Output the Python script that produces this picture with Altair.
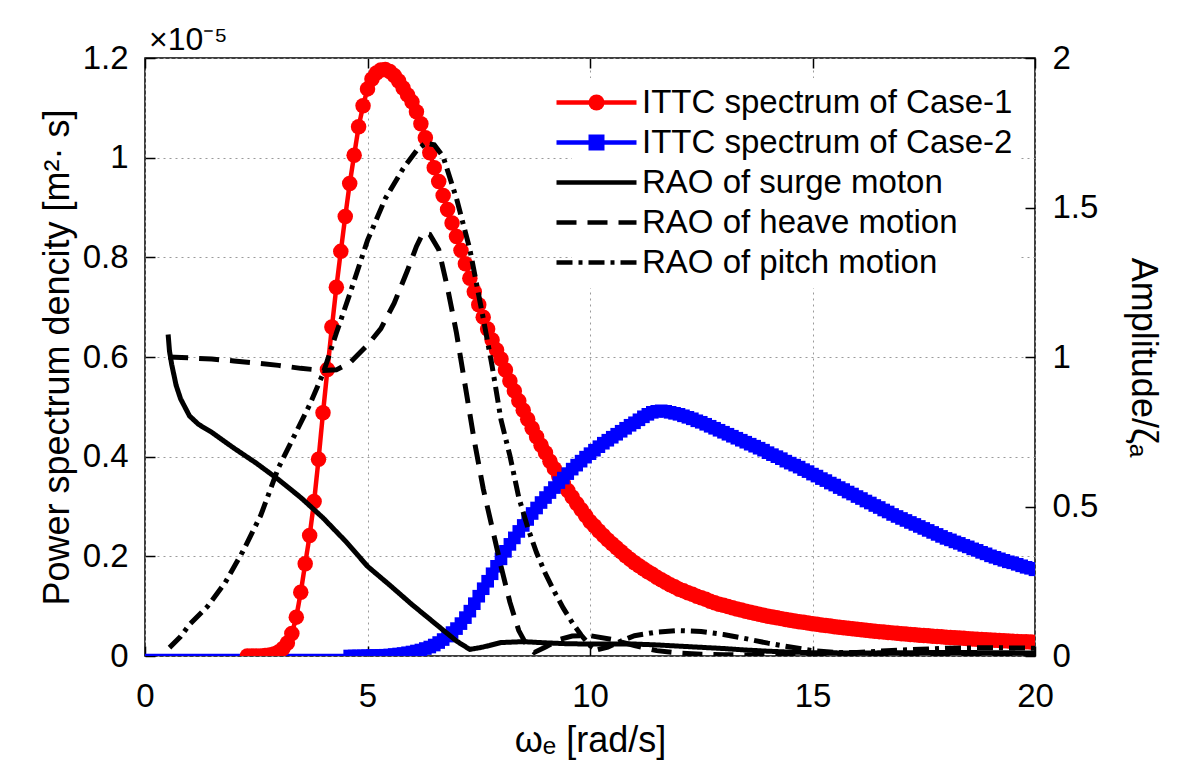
import altair as alt
import pandas as pd

FONT = "Liberation Sans"

series_names = ["ITTC spectrum of Case-1", "ITTC spectrum of Case-2",
                "RAO of surge moton", "RAO of heave motion", "RAO of pitch motion"]
series_colors = ["#ff0000", "#0000ff", "#000000", "#000000", "#000000"]
series_dashes = [[1, 0], [1, 0], [1, 0], [20, 11], [16, 6, 4, 6]]
marker_shapes = ["circle", "square"]

x_ticks = [0, 5, 10, 15, 20]
psd_ticks = [0, 0.2, 0.4, 0.6, 0.8, 1.0, 1.2]
amp_ticks = [0, 0.5, 1, 1.5, 2]

# ITTC spectrum of Case-1 (units of 1e-5 m^2 s)
case1_omega = [2.3, 2.4, 2.5, 2.6, 2.7, 2.8, 2.9, 3.0, 3.1, 3.2, 3.3, 3.4, 3.5, 3.6, 3.7, 3.8, 3.9,
               4.0, 4.1, 4.2, 4.3, 4.4, 4.5, 4.6, 4.7, 4.8, 4.9, 5.0, 5.1, 5.2, 5.3, 5.4, 5.5, 5.6,
               5.7, 5.8, 5.9, 6.0, 6.1, 6.2, 6.3, 6.4, 6.5, 6.6, 6.7, 6.8, 6.9, 7.0, 7.1, 7.2, 7.3,
               7.4, 7.5, 7.6, 7.7, 7.8, 7.9, 8.0, 8.1, 8.2, 8.3, 8.4, 8.5, 8.6, 8.7, 8.8, 8.9, 9.0,
               9.1, 9.2, 9.3, 9.4, 9.5, 9.6, 9.7, 9.8, 9.9, 10.0, 10.1, 10.2, 10.3, 10.4, 10.5,
               10.6, 10.7, 10.8, 10.9, 11.0, 11.1, 11.2, 11.3, 11.4, 11.5, 11.6, 11.7, 11.8, 11.9,
               12.0, 12.1, 12.2, 12.3, 12.4, 12.5, 12.6, 12.7, 12.8, 12.9, 13.0, 13.1, 13.2, 13.3,
               13.4, 13.5, 13.6, 13.7, 13.8, 13.9, 14.0, 14.1, 14.2, 14.3, 14.4, 14.5, 14.6, 14.7,
               14.8, 14.9, 15.0, 15.1, 15.2, 15.3, 15.4, 15.5, 15.6, 15.7, 15.8, 15.9, 16.0, 16.1,
               16.2, 16.3, 16.4, 16.5, 16.6, 16.7, 16.8, 16.9, 17.0, 17.1, 17.2, 17.3, 17.4, 17.5,
               17.6, 17.7, 17.8, 17.9, 18.0, 18.1, 18.2, 18.3, 18.4, 18.5, 18.6, 18.7, 18.8, 18.9,
               19.0, 19.1, 19.2, 19.3, 19.4, 19.5, 19.6, 19.7, 19.8, 19.9, 20.0]
case1_psd = [0.000, 0.000, 0.000, 0.000, 0.001, 0.002, 0.004, 0.008, 0.015, 0.026, 0.045, 0.078,
             0.128, 0.185, 0.242, 0.310, 0.395, 0.488, 0.575, 0.660, 0.740, 0.812, 0.882, 0.948,
             1.005, 1.062, 1.104, 1.138, 1.158, 1.170, 1.176, 1.177, 1.173, 1.165, 1.154, 1.140,
             1.126, 1.112, 1.092, 1.068, 1.040, 1.010, 0.980, 0.952, 0.924, 0.896, 0.869, 0.842,
             0.814, 0.787, 0.758, 0.731, 0.705, 0.680, 0.656, 0.634, 0.614, 0.596,
             0.574, 0.552, 0.532, 0.512, 0.493, 0.475, 0.457, 0.440, 0.423, 0.408,
             0.391, 0.376, 0.360, 0.346, 0.332, 0.319, 0.306, 0.294, 0.282, 0.270,
             0.261, 0.251, 0.242, 0.233, 0.225, 0.217, 0.209, 0.201, 0.194, 0.187,
             0.181, 0.175, 0.169, 0.164, 0.158, 0.153, 0.148, 0.143, 0.139, 0.134,
             0.131, 0.127, 0.124, 0.120, 0.117, 0.114, 0.110, 0.107, 0.104, 0.102,
             0.0991, 0.0968, 0.0945, 0.0922, 0.0900, 0.0879, 0.0858, 0.0838, 0.0818, 0.0799,
             0.0782, 0.0766, 0.0750, 0.0734, 0.0719, 0.0704, 0.0689, 0.0675, 0.0661, 0.0647,
             0.0635, 0.0623, 0.0611, 0.0600, 0.0588, 0.0577, 0.0567, 0.0556, 0.0546, 0.0535,
             0.0526, 0.0516, 0.0507, 0.0498, 0.0489, 0.0481, 0.0472, 0.0464, 0.0455, 0.0447,
             0.0440, 0.0432, 0.0425, 0.0418, 0.0411, 0.0404, 0.0397, 0.0390, 0.0384, 0.0377,
             0.0371, 0.0365, 0.0359, 0.0354, 0.0348, 0.0342, 0.0337, 0.0332, 0.0326, 0.0321,
             0.0316, 0.0311, 0.0307, 0.0302, 0.0297, 0.0293, 0.0288, 0.0284, 0.0279, 0.0275]

# ITTC spectrum of Case-2 (units of 1e-5 m^2 s)
case2_omega = [0.0, 4.6, 4.7, 4.8, 4.9, 5.0, 5.1, 5.2, 5.3, 5.4, 5.5, 5.6, 5.7, 5.8, 5.9, 6.0,
               6.1, 6.2, 6.3, 6.4, 6.5, 6.6, 6.7, 6.8, 6.9, 7.0, 7.1, 7.2, 7.3, 7.4, 7.5, 7.6,
               7.7, 7.8, 7.9, 8.0, 8.1, 8.2, 8.3, 8.4, 8.5, 8.6, 8.7, 8.8, 8.9, 9.0, 9.1, 9.2,
               9.3, 9.4, 9.5, 9.6, 9.7, 9.8, 9.9, 10.0, 10.1, 10.2, 10.3, 10.4, 10.5, 10.6, 10.7,
               10.8, 10.9, 11.0, 11.1, 11.2, 11.3, 11.4, 11.5, 11.6, 11.7, 11.8, 11.9, 12.0,
               12.1, 12.2, 12.3, 12.4, 12.5, 12.6, 12.7, 12.8, 12.9, 13.0, 13.1, 13.2, 13.3,
               13.4, 13.5, 13.6, 13.7, 13.8, 13.9, 14.0, 14.1, 14.2, 14.3, 14.4, 14.5, 14.6,
               14.7, 14.8, 14.9, 15.0, 15.1, 15.2, 15.3, 15.4, 15.5, 15.6, 15.7, 15.8, 15.9,
               16.0, 16.1, 16.2, 16.3, 16.4, 16.5, 16.6, 16.7, 16.8, 16.9, 17.0, 17.1, 17.2,
               17.3, 17.4, 17.5, 17.6, 17.7, 17.8, 17.9, 18.0, 18.1, 18.2, 18.3, 18.4, 18.5,
               18.6, 18.7, 18.8, 18.9, 19.0, 19.1, 19.2, 19.3, 19.4, 19.5, 19.6, 19.7, 19.8,
               19.9, 20.0]
case2_psd = [0.0, 0.000, 0.000, 0.000, 0.0003, 0.0005, 0.0008, 0.001, 0.0012, 0.0015, 0.002,
             0.003, 0.004, 0.005, 0.0065, 0.008, 0.010, 0.012, 0.015, 0.018, 0.022, 0.027,
             0.033, 0.040, 0.047, 0.055, 0.065, 0.077, 0.090, 0.105, 0.120, 0.135, 0.150,
             0.165, 0.180, 0.195, 0.210, 0.224, 0.237, 0.250, 0.262, 0.274, 0.286, 0.297,
             0.308, 0.318, 0.328, 0.338, 0.348, 0.357, 0.366, 0.375, 0.383, 0.391, 0.399,
             0.406, 0.413, 0.420, 0.427, 0.433, 0.439, 0.445, 0.451, 0.457, 0.463, 0.468,
             0.474, 0.480, 0.485, 0.489, 0.491, 0.492, 0.491, 0.489, 0.487, 0.485, 0.482,
             0.479, 0.476, 0.472, 0.469, 0.465, 0.461, 0.457, 0.453, 0.449, 0.445, 0.441,
             0.437, 0.433, 0.429, 0.425, 0.421, 0.417, 0.413, 0.408, 0.404, 0.400, 0.396,
             0.391, 0.387, 0.383, 0.379, 0.374, 0.370, 0.365, 0.361, 0.356, 0.352, 0.347,
             0.343, 0.338, 0.334, 0.329, 0.325, 0.320, 0.316, 0.311, 0.307, 0.302, 0.298,
             0.293, 0.289, 0.284, 0.280, 0.276, 0.272, 0.268, 0.264, 0.260, 0.256, 0.252,
             0.248, 0.244, 0.240, 0.236, 0.233, 0.229, 0.226, 0.222, 0.219, 0.215, 0.212,
             0.208, 0.205, 0.201, 0.198, 0.195, 0.192, 0.189, 0.187, 0.184, 0.181, 0.178,
             0.176, 0.173]

# RAO curves (Amplitude / zeta_a)
surge_omega = [0.52, 0.55, 0.6, 0.7, 0.8, 1.0, 1.2, 1.5, 2.0, 2.5, 3.0, 3.5, 4.0, 4.5, 5.0, 5.5,
               6.0, 6.5, 7.0, 7.3, 7.6, 8.0, 8.5, 9.0, 9.5, 10.0, 10.5, 11.0, 11.5, 12.0, 12.5,
               13.0, 13.5, 14.0, 14.5, 15.0, 16.0, 17.0, 18.0, 19.0, 20.0]
surge_amp = [1.075, 1.02, 0.975, 0.905, 0.86, 0.803, 0.775, 0.748, 0.695, 0.645, 0.59, 0.53,
             0.462, 0.385, 0.30, 0.237, 0.172, 0.111, 0.05, 0.022, 0.03, 0.045, 0.048, 0.044,
             0.041, 0.04, 0.04, 0.04, 0.037, 0.033, 0.029, 0.025, 0.02, 0.016, 0.013, 0.011,
             0.01, 0.011, 0.012, 0.011, 0.01]

heave_omega = [0.52, 1.0, 1.5, 2.0, 2.5, 3.0, 3.5, 4.0, 4.3, 4.6, 5.0, 5.3, 5.6, 5.9, 6.1, 6.25,
               6.4, 6.6, 6.8, 7.0, 7.2, 7.4, 7.6, 7.8, 8.0, 8.2, 8.4, 8.6, 8.75, 9.0, 9.3, 9.6,
               10.0, 10.5, 11.0, 11.5, 12.0, 12.5, 13.0, 14.0, 15.0, 16.0, 17.0, 18.0, 19.0, 20.0]
heave_amp = [1.0, 0.997, 0.993, 0.987, 0.98, 0.972, 0.962, 0.955, 0.957, 0.98, 1.04, 1.095,
             1.18, 1.29, 1.37, 1.415, 1.41, 1.36, 1.23, 1.08, 0.9, 0.72, 0.56, 0.43, 0.30, 0.18,
             0.085, 0.03, 0.012, 0.03, 0.055, 0.067, 0.068, 0.055, 0.035, 0.018, 0.01, 0.006,
             0.004, 0.003, 0.002, 0.002, 0.002, 0.002, 0.002, 0.002]

pitch_omega = [0.55, 0.8, 1.0, 1.4, 1.8, 2.2, 2.6, 3.0, 3.3, 3.7, 4.0, 4.3, 4.6, 5.0, 5.4, 5.8,
               6.1, 6.3, 6.5, 6.7, 7.0, 7.3, 7.6, 7.8, 8.0, 8.2, 8.4, 8.6, 8.8, 9.0, 9.2, 9.4,
               9.6, 9.8, 10.0, 10.15, 10.4, 10.7, 11.0, 11.5, 12.0, 12.5, 13.0, 13.5, 14.0, 14.5,
               15.0, 15.5, 16.0, 17.0, 18.0, 19.0, 20.0]
pitch_amp = [0.028, 0.065, 0.105, 0.165, 0.245, 0.35, 0.47, 0.63, 0.72, 0.84, 0.944, 1.08,
             1.21, 1.39, 1.53, 1.63, 1.69, 1.715, 1.71, 1.67, 1.53, 1.36, 1.13, 0.97, 0.79,
             0.67, 0.53, 0.43, 0.345, 0.275, 0.215, 0.16, 0.112, 0.07, 0.035, 0.02, 0.03, 0.05,
             0.068, 0.08, 0.085, 0.082, 0.072, 0.058, 0.043, 0.03, 0.018, 0.012, 0.012, 0.02,
             0.026, 0.028, 0.026]


def frame(omegas, values, name):
    return pd.DataFrame({"omega": omegas, "value": values, "series": name, "marker": name})


red_df = frame(case1_omega, case1_psd, series_names[0])
blue_df = frame(case2_omega, case2_psd, series_names[1])
spec_df = pd.concat([red_df, blue_df], ignore_index=True)
rao_df = pd.concat([frame(surge_omega, surge_amp, series_names[2]),
                    frame(heave_omega, heave_amp, series_names[3]),
                    frame(pitch_omega, pitch_amp, series_names[4])], ignore_index=True)

x_scale = alt.Scale(domain=[0, 20], nice=False, zero=False)
psd_scale = alt.Scale(domain=[0, 1.2], nice=False)
amp_scale = alt.Scale(domain=[0, 2], nice=False)
color_scale = alt.Scale(domain=series_names, range=series_colors)
dash_scale = alt.Scale(domain=series_names, range=series_dashes)
shape_scale = alt.Scale(domain=series_names[:2], range=marker_shapes)
fill_scale = alt.Scale(domain=series_names[:2], range=series_colors[:2])

GRID = dict(gridColor="#9a9a9a", gridDash=[2, 4], gridWidth=1)
common_leg = dict(orient="none", legendX=427, legendY=20, title=None, labelFont=FONT,
                  labelFontSize=33, labelColor="black", labelLimit=0, rowPadding=6,
                  padding=8, symbolSize=256, labelOffset=29)
line_legend = alt.Legend(symbolType="M-5,0L5,0", symbolStrokeWidth=4.5, fillColor="white",
                         **common_leg)
marker_legend = alt.Legend(labelOpacity=0, symbolStrokeWidth=0, **common_leg)

spec_lines = alt.Chart(spec_df).mark_line(strokeWidth=4.5, clip=True).encode(
    x=alt.X("omega:Q", scale=x_scale,
            axis=alt.Axis(orient="bottom", values=x_ticks, format="~g", offset=-10, tickSize=10,
                          domain=False, grid=True, labelFlush=False, labelPadding=24,
                          title="ωₑ [rad/s]", titlePadding=10, **GRID)),
    y=alt.Y("value:Q", scale=psd_scale,
            axis=alt.Axis(orient="left", values=psd_ticks, format="~g", offset=-10, tickSize=10,
                          domain=False, grid=True, labelFlush=False, labelPadding=17,
                          title="Power spectrum dencity [m²· s]", titlePadding=6, **GRID)),
    color=alt.Color("series:N", scale=color_scale, legend=line_legend),
    strokeDash=alt.StrokeDash("series:N", scale=dash_scale, legend=line_legend),
)

top_axis = alt.Axis(orient="top", values=x_ticks, labels=False, offset=-10, tickSize=10,
                    domain=False, grid=False, title=None)

pts_red = alt.Chart(red_df).mark_point(filled=True, size=240, opacity=1, clip=True).encode(
    x=alt.X("omega:Q", scale=x_scale, axis=top_axis),
    y=alt.Y("value:Q", scale=psd_scale, axis=None),
    shape=alt.Shape("marker:N", scale=shape_scale, legend=marker_legend),
    fill=alt.Fill("marker:N", scale=fill_scale, legend=marker_legend),
)

pts_blue = alt.Chart(blue_df).transform_filter("datum.omega >= 4.6").mark_point(
    filled=True, size=160, opacity=1, clip=True).encode(
    x=alt.X("omega:Q", scale=x_scale, axis=None),
    y=alt.Y("value:Q", scale=psd_scale, axis=None),
    shape=alt.Shape("marker:N", scale=shape_scale, legend=marker_legend),
    fill=alt.Fill("marker:N", scale=fill_scale, legend=marker_legend),
)

rao_lines = alt.Chart(rao_df).mark_line(strokeWidth=5, clip=True).encode(
    x=alt.X("omega:Q", scale=x_scale, axis=None),
    y=alt.Y("value:Q", scale=amp_scale,
            axis=alt.Axis(orient="right", values=amp_ticks, format="~g", offset=-10, tickSize=10,
                          domain=False, grid=False, labelFlush=False, labelPadding=17,
                          title="Amplitude/ζₐ", titlePadding=26)),
    color=alt.Color("series:N", scale=color_scale, legend=line_legend),
    strokeDash=alt.StrokeDash("series:N", scale=dash_scale, legend=line_legend),
)

chart = alt.layer(spec_lines, pts_red, pts_blue, rao_lines).resolve_scale(
    y="independent").resolve_axis(x="independent").properties(
    width=890, height=598,
    autosize=alt.AutoSizeParams(type="none"),
    padding={"left": 145, "top": 58, "right": 148, "bottom": 115},
    title=alt.TitleParams("×10⁻⁵", anchor="start", frame="group", fontSize=32, font=FONT,
                          fontWeight="normal", color="black", offset=7, dx=4, dy=22),
).configure_view(stroke="black", strokeWidth=1.5).configure_axis(
    labelFont=FONT, labelFontSize=33, labelColor="black", titleFont=FONT, titleFontSize=36,
    titleFontWeight="normal", titleColor="black", tickColor="black", tickWidth=1.5,
)

chart.save("out.html", embed_options={"renderer": "svg", "actions": False})
